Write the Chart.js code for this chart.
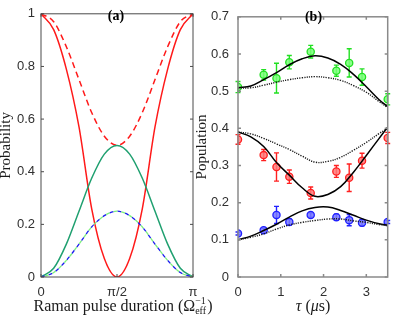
<!DOCTYPE html>
<html><head><meta charset="utf-8">
<script src="https://cdn.jsdelivr.net/npm/chart.js@4.4.1/dist/chart.umd.min.js"></script>
<style>
html,body{margin:0;padding:0;background:#fff;width:393px;height:317px;overflow:hidden}
#wa{position:absolute;left:0;top:0;width:232px;height:317px;z-index:2}
#wb{position:absolute;left:196px;top:0;width:197px;height:317px;z-index:1}
</style></head><body>
<div id="wa"><canvas id="ca" width="232" height="317"></canvas></div>
<div id="wb"><canvas id="cb" width="197" height="317"></canvas></div>
<script>
// ---------- Panel (a): x in units of pi ----------
const pulseX      = [0, 0.0833, 0.1667, 0.25, 0.3333, 0.4167, 0.5, 0.5833, 0.6667, 0.75, 0.8333, 0.9167, 1];
const redSolid    = [1, 0.94, 0.79, 0.57, 0.26, 0.07, 0, 0.07, 0.26, 0.57, 0.79, 0.94, 1];
const redDashed   = [1, 0.97, 0.875, 0.75, 0.625, 0.535, 0.5, 0.535, 0.625, 0.75, 0.875, 0.97, 1];
const greenSolid  = [0, 0.033, 0.125, 0.25, 0.375, 0.467, 0.5, 0.467, 0.375, 0.25, 0.125, 0.033, 0];
const blueDashed  = [0, 0.017, 0.063, 0.125, 0.19, 0.233, 0.25, 0.233, 0.19, 0.125, 0.063, 0.017, 0];
const pulseTicks  = {0: '0', 0.5: 'π/2', 1: 'π'};

// ---------- Panel (b) ----------
const tauFit      = [0, 0.3, 0.6, 0.9, 1.2, 1.5, 1.8, 2.1, 2.4, 2.7, 3.0, 3.3, 3.5];
const greenFit    = [0.509, 0.514, 0.531, 0.55, 0.571, 0.587, 0.595, 0.589, 0.572, 0.545, 0.512, 0.477, 0.458];
const greenDot    = [0.509, 0.509, 0.516, 0.524, 0.531, 0.536, 0.539, 0.536, 0.529, 0.515, 0.497, 0.472, 0.456];
const redFit      = [0.39, 0.377, 0.351, 0.308, 0.274, 0.24, 0.217, 0.222, 0.243, 0.282, 0.327, 0.373, 0.403];
const redDot      = [0.39, 0.385, 0.373, 0.358, 0.343, 0.325, 0.309, 0.311, 0.322, 0.341, 0.362, 0.386, 0.40];
const blueFit     = [0.10, 0.11, 0.125, 0.142, 0.161, 0.178, 0.187, 0.188, 0.179, 0.166, 0.153, 0.143, 0.139];
const blueDot     = [0.10, 0.107, 0.116, 0.129, 0.14, 0.147, 0.152, 0.156, 0.156, 0.151, 0.147, 0.141, 0.138];

const tauData     = [0, 0.6, 0.9, 1.2, 1.7, 2.3, 2.6, 2.9, 3.5];
const greenPts    = [0.511, 0.544, 0.535, 0.578, 0.606, 0.555, 0.576, 0.538, 0.478];
const greenErr    = [0.015, 0.014, 0.04, 0.018, 0.017, 0.015, 0.038, 0.022, 0.015];
const redPts      = [0.370, 0.328, 0.296, 0.270, 0.226, 0.284, 0.267, 0.313, 0.374];
const redErr      = [0.013, 0.015, 0.038, 0.018, 0.016, 0.016, 0.037, 0.02, 0.015];
const bluePts     = [0.117, 0.126, 0.167, 0.148, 0.167, 0.161, 0.153, 0.146, 0.148];
const blueErr     = [0.004, 0.005, 0.023, 0.008, 0.006, 0.008, 0.015, 0.008, 0.004];

const xy = (xs, ys) => xs.map((x, i) => ({x, y: ys[i]}));
const SANS = '"Liberation Sans", Arial, Helvetica, sans-serif';
const SERIF = '"Liberation Serif", "Times New Roman", Times, serif';
const TICKFONT = {family: SANS, size: 13};
const TICKCOLOR = '#303030';
const fmt = v => String(+(+v).toFixed(1));

const framePlugin = {
  id: 'frame',
  afterDraw(chart, args, o) {
    const {ctx, chartArea: {left, right, top, bottom}, scales: {x, y}} = chart;
    ctx.save();
    ctx.strokeStyle = o.color; ctx.lineWidth = o.width;
    ctx.strokeRect(left, top, right - left, bottom - top);
    const L = 3;
    ctx.beginPath();
    x.ticks.forEach(t => { const p = x.getPixelForValue(t.value);
      ctx.moveTo(p, bottom); ctx.lineTo(p, bottom - L); ctx.moveTo(p, top); ctx.lineTo(p, top + L); });
    y.ticks.forEach(t => { const p = y.getPixelForValue(t.value);
      ctx.moveTo(left, p); ctx.lineTo(left + L, p); ctx.moveTo(right, p); ctx.lineTo(right - L, p); });
    ctx.stroke();
    ctx.restore();
  }
};

const textPlugin = {
  id: 'texts',
  afterDraw(chart, args, o) {
    const ctx = chart.ctx;
    ctx.save();
    ctx.fillStyle = '#000';
    ctx.font = 'bold 14px ' + SERIF;
    ctx.textAlign = 'center'; ctx.textBaseline = 'middle';
    ctx.fillText(o.panel, o.panelX, o.panelY);
    ctx.fillStyle = '#1a1a1a';
    ctx.textBaseline = 'alphabetic'; ctx.textAlign = 'left';
    let total = 0;
    const runs = o.runs.map(r => { ctx.font = r.font; const w = ctx.measureText(r.t).width; return Object.assign({w}, r); });
    runs.forEach(r => { total += r.stack ? (r.advance ? r.stackW : 0) : r.w; });
    let x = o.titleX - total / 2;
    runs.forEach(r => {
      ctx.font = r.font;
      ctx.fillText(r.t, x, o.titleY + (r.dy || 0));
      if (!r.stack) x += r.w; else if (r.advance) x += r.stackW;
    });
    ctx.restore();
  }
};

const errPlugin = {
  id: 'errbars',
  beforeDatasetDraw(chart, args) {
    const ds = chart.data.datasets[args.index];
    if (!ds.errors) return;
    const {ctx, scales: {x, y}} = chart;
    ctx.save();
    ctx.strokeStyle = ds.borderColor; ctx.lineWidth = 1.4;
    ctx.beginPath();
    ds.data.forEach((p, i) => {
      const e = ds.errors[i];
      const px = x.getPixelForValue(p.x);
      const y1 = y.getPixelForValue(p.y - e), y2 = y.getPixelForValue(p.y + e);
      ctx.moveTo(px, y1); ctx.lineTo(px, y2);
      ctx.moveTo(px - 2.5, y1); ctx.lineTo(px + 2.5, y1);
      ctx.moveTo(px - 2.5, y2); ctx.lineTo(px + 2.5, y2);
    });
    ctx.stroke();
    ctx.restore();
  }
};

const lineDs = (data, color, extra) => Object.assign({
  type: 'line', data, borderColor: color, borderWidth: 1.5, pointRadius: 0,
  fill: false, tension: 0.4
}, extra || {});

// ---------- Chart (a) ----------
new Chart(document.getElementById('ca'), {
  type: 'line',
  data: { datasets: [
    lineDs(xy(pulseX, blueDashed), '#7ef07e', {borderDash: [4, 4], borderDashOffset: 4, cubicInterpolationMode: 'monotone', borderWidth: 1.3}),
    lineDs(xy(pulseX, blueDashed), '#1c1cf0', {borderDash: [4, 4], cubicInterpolationMode: 'monotone', borderWidth: 1.3}),
    lineDs(xy(pulseX, greenSolid), '#20a070', {cubicInterpolationMode: 'monotone'}),
    lineDs(xy(pulseX, redDashed), '#ff1a1a', {borderDash: [6, 4], cubicInterpolationMode: 'monotone'}),
    lineDs(xy(pulseX, redSolid), '#ff1a1a', {cubicInterpolationMode: 'monotone'})
  ]},
  options: {
    responsive: false, animation: false, devicePixelRatio: 1,
    layout: {padding: {top: 4, right: 39, left: 0, bottom: 0}},
    plugins: {
      legend: {display: false}, tooltip: {enabled: false},
      frame: {color: '#4a4a4a', width: 1},
      texts: {panel: '(a)', panelX: 116, panelY: 16.5, titleX: 123, titleY: 311,
        runs: [
          {t: 'Raman pulse duration (Ω', font: '16px ' + SERIF},
          {t: '−1', font: '10px ' + SERIF, dy: -7, stack: true},
          {t: 'eff', font: '10px ' + SERIF, dy: 3, stack: true, stackW: 12, advance: true},
          {t: ')', font: '16px ' + SERIF}
        ]}
    },
    scales: {
      x: {type: 'linear', min: 0, max: 1,
        afterFit: s => { s.height = 40; },
        grid: {display: false, drawTicks: false}, border: {display: false},
        ticks: {stepSize: 0.5, padding: 8, font: TICKFONT, color: TICKCOLOR, maxRotation: 0,
          callback: v => pulseTicks[v] !== undefined ? pulseTicks[v] : ''}},
      y: {min: 0, max: 1,
        afterFit: s => { s.width = 41; },
        grid: {display: false, drawTicks: false}, border: {display: false},
        title: {display: true, text: 'Probability', color: '#1a1a1a',
          font: {family: SERIF, size: 15}, padding: {top: -3, bottom: 0}},
        ticks: {stepSize: 0.2, padding: 6, font: TICKFONT, color: TICKCOLOR, callback: fmt}}
    }
  },
  plugins: [framePlugin, textPlugin]
});

// ---------- Chart (b) ----------
const ptDs = (xs, ys, errs, border, fillc) => ({
  type: 'scatter', data: xy(xs, ys), errors: errs, showLine: false,
  borderColor: border, backgroundColor: fillc, pointRadius: 3.6, borderWidth: 1.3
});
new Chart(document.getElementById('cb'), {
  type: 'line',
  data: { datasets: [
    lineDs(xy(tauFit, greenDot), '#1a1a1a', {borderDash: [1.2, 1.2], borderWidth: 1.4}),
    lineDs(xy(tauFit, redDot), '#1a1a1a', {borderDash: [1.2, 1.2], borderWidth: 1.4}),
    lineDs(xy(tauFit, blueDot), '#1a1a1a', {borderDash: [1.2, 1.2], borderWidth: 1.4}),
    lineDs(xy(tauFit, greenFit), '#000'),
    lineDs(xy(tauFit, redFit), '#000'),
    lineDs(xy(tauFit, blueFit), '#000'),
    ptDs(tauData, greenPts, greenErr, '#22e022', 'rgba(120,255,120,0.85)'),
    ptDs(tauData, redPts, redErr, '#ff2020', 'rgba(255,120,120,0.85)'),
    ptDs(tauData, bluePts, blueErr, '#2020ff', 'rgba(120,120,255,0.85)')
  ]},
  options: {
    responsive: false, animation: false, devicePixelRatio: 1,
    layout: {padding: {top: 4, right: 4, left: 0, bottom: 0}},
    plugins: {
      legend: {display: false}, tooltip: {enabled: false},
      frame: {color: '#8a8a8a', width: 1.5},
      texts: {panel: '(b)', panelX: 117.5, panelY: 17, titleX: 117, titleY: 311,
        runs: [
          {t: 'τ', font: 'italic 16px ' + SERIF},
          {t: ' (', font: '16px ' + SERIF},
          {t: 'μ', font: 'italic 16px ' + SERIF},
          {t: 's)', font: '16px ' + SERIF}
        ]}
    },
    scales: {
      x: {type: 'linear', min: 0, max: 3.5,
        afterFit: s => { s.height = 40; },
        grid: {display: false, drawTicks: false}, border: {display: false},
        ticks: {stepSize: 1, includeBounds: false, padding: 8, font: TICKFONT, color: TICKCOLOR, maxRotation: 0}},
      y: {min: 0, max: 0.7,
        afterFit: s => { s.width = 42; },
        grid: {display: false, drawTicks: false}, border: {display: false},
        title: {display: true, text: 'Population', color: '#1a1a1a',
          font: {family: SERIF, size: 15}, padding: {top: -3, bottom: 0}},
        ticks: {stepSize: 0.1, padding: 9, font: TICKFONT, color: TICKCOLOR, callback: fmt}}
    }
  },
  plugins: [framePlugin, textPlugin, errPlugin]
});
</script>
</body></html>
